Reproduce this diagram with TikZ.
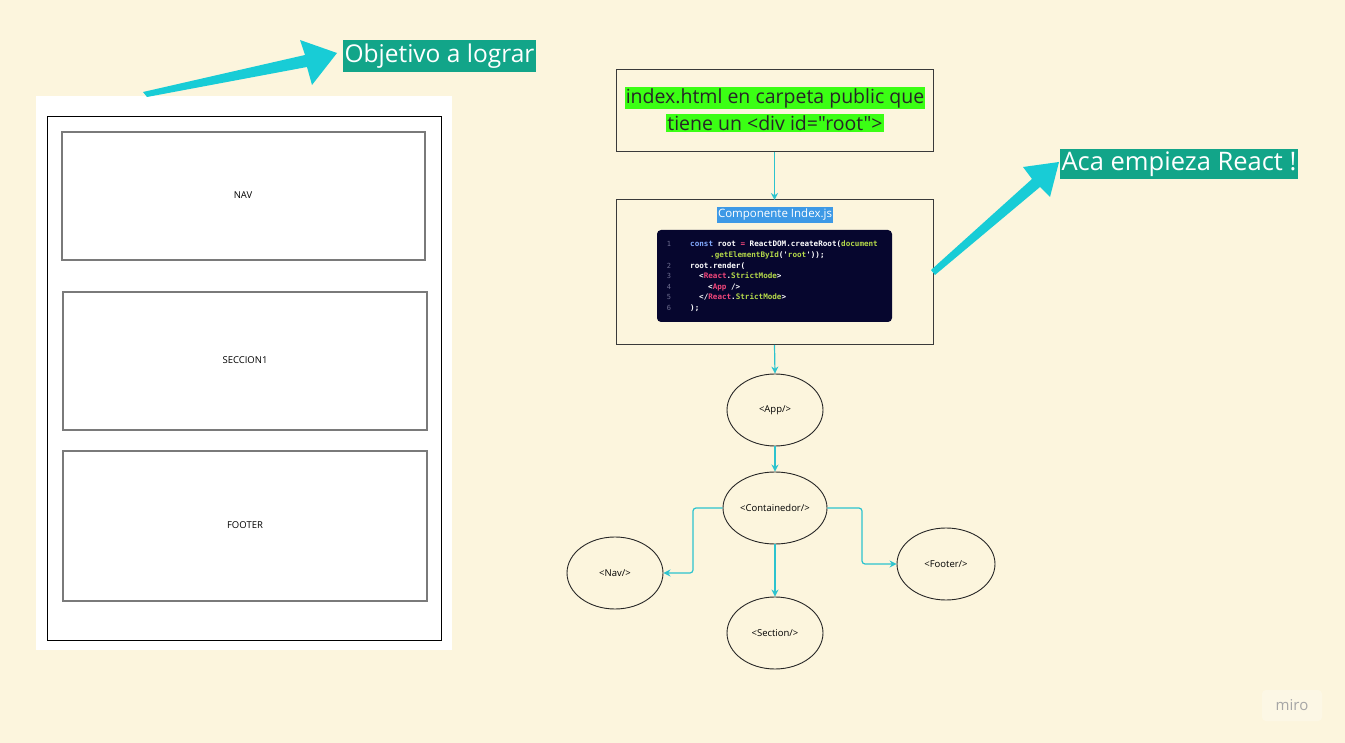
\documentclass[tikz,border=0pt]{standalone}
\usepackage{fontspec}
\setmainfont{Open Sans}
\newfontfamily\osplain{Open Sans}
\setmonofont{DejaVu Sans Mono}
\usetikzlibrary{shapes.geometric,arrows.meta}
\definecolor{bg}{HTML}{FCF5DD}
\definecolor{teal}{HTML}{12A589}
\definecolor{cyanA}{HTML}{18CCD6}
\definecolor{conn}{HTML}{2CC3CE}
\definecolor{lime}{HTML}{3BFF14}
\definecolor{hlblue}{HTML}{3D99E6}
\definecolor{codebg}{HTML}{06062E}
\definecolor{ckw}{HTML}{82AAFF}
\definecolor{cpink}{HTML}{F0467A}
\definecolor{cgreen}{HTML}{B4D84A}
\definecolor{cnum}{HTML}{6E6E90}
\definecolor{boxline}{HTML}{3A3A3A}
\definecolor{greyline}{HTML}{7A7A7A}
\tikzset{
  oval/.style={draw=black!85, line width=0.9pt, ellipse, inner sep=0pt, minimum width=96pt, minimum height=72pt, font=\fontsize{9.5}{11}\selectfont},
  flowbox/.style={draw=boxline, line width=1pt},
  subbox/.style={draw=greyline, line width=1.2pt, fill=white},
  connector/.style={draw=conn, line width=1.2pt, -{Stealth[length=7pt,width=7pt]}, rounded corners=3pt},
  bigtag/.style={fill=teal, text=white, inner xsep=2pt, inner ysep=3pt},
  codeline/.style={anchor=base west, inner sep=0pt, font=\ttfamily\bfseries\fontsize{7.6}{9}\selectfont, text=white},
  numline/.style={anchor=base, inner sep=0pt, font=\ttfamily\fontsize{7}{9}\selectfont, text=cnum},
  paneltext/.style={font=\fontsize{9.5}{11}\selectfont},
  limetag/.style={fill=lime, inner xsep=1pt, inner ysep=1.5pt, font=\osplain\fontsize{19.5}{22}\selectfont, text=black!85}
}
\begin{document}
\begin{tikzpicture}[x=1pt,y=-1pt]
\fill[bg] (0,0) rectangle (1345,743);
\useasboundingbox (0,0) rectangle (1345,743);

% left panel
\fill[white] (36,96) rectangle (452,650);
\draw[black, line width=0.9pt] (47,116) rectangle (441,640);
\draw[subbox] (62,132) rectangle (425,260);
\draw[subbox] (63,292) rectangle (427,430);
\draw[subbox] (63,451) rectangle (427,601);
\node[paneltext] (navlbl) at (243,195) {NAV};
\node[paneltext] (seclbl) at (245,360) {SECCION1};
\node[paneltext] (footlbl) at (245,525) {FOOTER};

% big arrow to "Objetivo a lograr"
\fill[cyanA] (143,92) -- (305,55) -- (300,40) -- (337,53) -- (312,85) -- (307,67) -- (147,97) -- cycle;
\node[bigtag, font=\fontsize{24.5}{28}\selectfont, inner ysep=4pt] (obj) at (439.5,56) {Objetivo a lograr};

% index.html box
\draw[flowbox, fill=bg] (616,70) rectangle (933,152);
\node[limetag] (idx1) at (775,98) {index.html en carpeta public que};
\node[limetag] (idx2) at (775,123) {tiene un <div id="root">};
\coordinate (idxbot) at (774.5,152);

% Componente box
\draw[flowbox, fill=bg] (616,200) rectangle (933,345);
\coordinate (comptop) at (774.5,200);
\coordinate (compbot) at (774.5,345);
\node[fill=hlblue, text=white, inner xsep=1pt, inner ysep=2pt, font=\fontsize{11.5}{13}\selectfont] (complbl) at (775,215) {Componente Index.js};
\fill[codebg, rounded corners=4pt] (657,230) rectangle (892,322);

\node[numline] (n1) at (669,247) {1};
\node[numline] (n2) at (669,268.5) {2};
\node[numline] (n3) at (669,279) {3};
\node[numline] (n4) at (669,289.5) {4};
\node[numline] (n5) at (669,300) {5};
\node[numline] (n6) at (669,310.5) {6};

\node[codeline] (c1) at (690,247) {\textcolor{ckw}{const} root \textcolor{cpink}{=} ReactDOM.createRoot(\textcolor{cgreen}{document}};
\node[codeline] (c1b) at (710,258) {\textcolor{cgreen}{.getElementById}('\textcolor{cgreen}{root}'));};
\node[codeline] (c2) at (690,268.5) {root.render(};
\node[codeline] (c3) at (699,279) {<\textcolor{cpink}{React}.\textcolor{cgreen}{StrictMode}>};
\node[codeline] (c4) at (708,289.5) {<\textcolor{cpink}{App} />};
\node[codeline] (c5) at (699,300) {</\textcolor{cpink}{React}.\textcolor{cgreen}{StrictMode}>};
\node[codeline] (c6) at (690,310.5) {);};

% arrow to "Aca empieza React !"
\fill[cyanA] (931,270) -- (1032,179) -- (1023,167) -- (1059,162) -- (1050,197) -- (1040,187) -- (935,275) -- cycle;
\node[bigtag, font=\fontsize{25.5}{29}\selectfont] (aca) at (1179,164) {Aca empieza React !};

% component tree
\node[oval] (app) at (775,410) {<App/>};
\node[oval, minimum width=104pt] (cont) at (775,508) {<Containedor/>};
\node[oval] (nav) at (615,573) {<Nav/>};
\node[oval] (sec) at (775,633) {<Section/>};
\node[oval, minimum width=98pt] (foot) at (946,564) {<Footer/>};

\draw[connector] (idxbot) -- (comptop);
\draw[connector] (compbot) -- (app.north);
\draw[connector] (app.south) -- (cont.north);
\draw[connector] (cont.west) -- (693,508) -- (693,573) -- (nav.east);
\draw[connector] (cont.east) -- (862,508) -- (862,564) -- (foot.west);
\draw[connector] (cont.south) -- (sec.north);

% miro watermark
\fill[white, opacity=0.25, rounded corners=4pt] (1262,690) rectangle (1322,721);
\node[text=black!35, font=\fontsize{15}{17}\selectfont] (miro) at (1292,705) {miro};
\end{tikzpicture}
\end{document}
